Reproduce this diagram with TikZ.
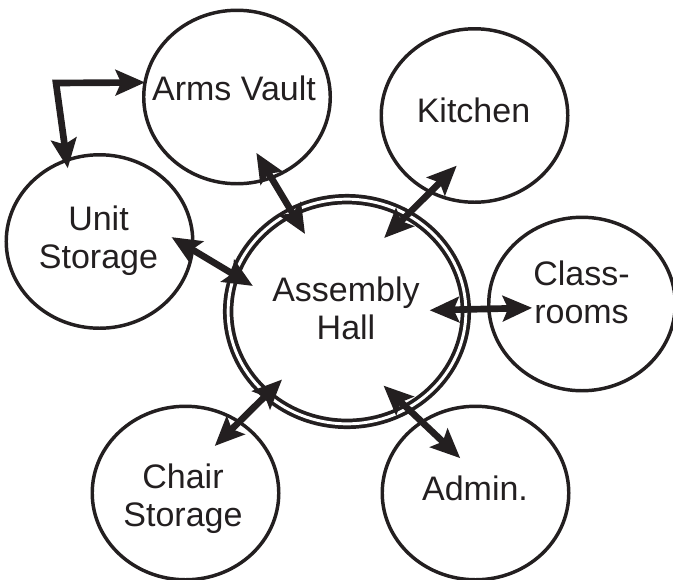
\documentclass[tikz,border=0pt]{standalone}
\usepackage{fontspec}
\setmainfont{Liberation Sans}
\usetikzlibrary{shapes.geometric,arrows.meta}
\definecolor{ink}{RGB}{35,31,32}

\begin{document}
\begin{tikzpicture}[x=0.75pt,y=0.75pt,yscale=-1,xscale=1,
  room/.style={ellipse,draw=ink,line width=2.6pt,minimum width=139.9pt,minimum height=130.1pt,inner sep=0pt,outer sep=0pt},
  hallring/.style={ellipse,draw=ink,line width=2.8pt,double=white,double distance=2.2pt,minimum width=178.3pt,minimum height=168.5pt,inner sep=0pt,outer sep=0pt},
  roomtext/.style={text=ink,font=\fontsize{25.5}{28.5}\selectfont,align=center,inner sep=0pt},
  link/.style={draw=ink,line width=5pt,>={Stealth[length=22pt,width=19pt,inset=4pt]},<->}
]
\useasboundingbox (0,0) rectangle (673,579);

%Shape: Ellipse [hall]
\node[hallring] (hall) at (347,311.5) {};
%Shape: Ellipse [rooms]
\node[room] (arms) at (237,97) {};
\node[room] (kitchen) at (474.5,115.5) {};
\node[room] (unit) at (99.5,241.5) {};
\node[room] (class) at (582,304) {};
\node[room] (chair) at (185.5,493) {};
\node[room] (admin) at (475.5,493) {};

\coordinate (bend) at (56,83);

%Straight Lines
\draw[link,shorten <=-6pt] (unit.112) -- (bend) -- (arms.171);
\draw[link,shorten <=-21.7pt,shorten >=-19.2pt] (arms.-67) -- (hall.119);
\draw[link,shorten <=-18.2pt,shorten >=-16pt] (unit.-5) -- (hall.162);
\draw[link,shorten <=-24.7pt,shorten >=-27.9pt] (hall.58) -- (kitchen.-120);
\draw[link,shorten <=-27.2pt,shorten >=-32.5pt] (hall.1) -- (class.-177);
\draw[link,shorten <=-16pt,shorten >=-25.6pt] (hall.-134) -- (chair.53);
\draw[link,shorten <=-24.7pt,shorten >=-39.5pt] (hall.-58) -- (admin.127);

% Text Node
\node[roomtext] (armsname) at (234,88.5) {Arms Vault};
% Text Node
\node[roomtext] (kitchenname) at (473.5,110.5) {Kitchen};
% Text Node
\node[roomtext] (unitname) at (98.5,241) {Unit\\Storage};
% Text Node
\node[roomtext] (hallname) at (346,308.5) {Assembly\\Hall};
% Text Node
\node[roomtext] (classname) at (581.5,292) {Class-\\rooms};
% Text Node
\node[roomtext] (chairname) at (183,499) {Chair\\Storage};
% Text Node
\node[roomtext] (adminname) at (475,488.5) {Admin.};

\end{tikzpicture}
\end{document}
